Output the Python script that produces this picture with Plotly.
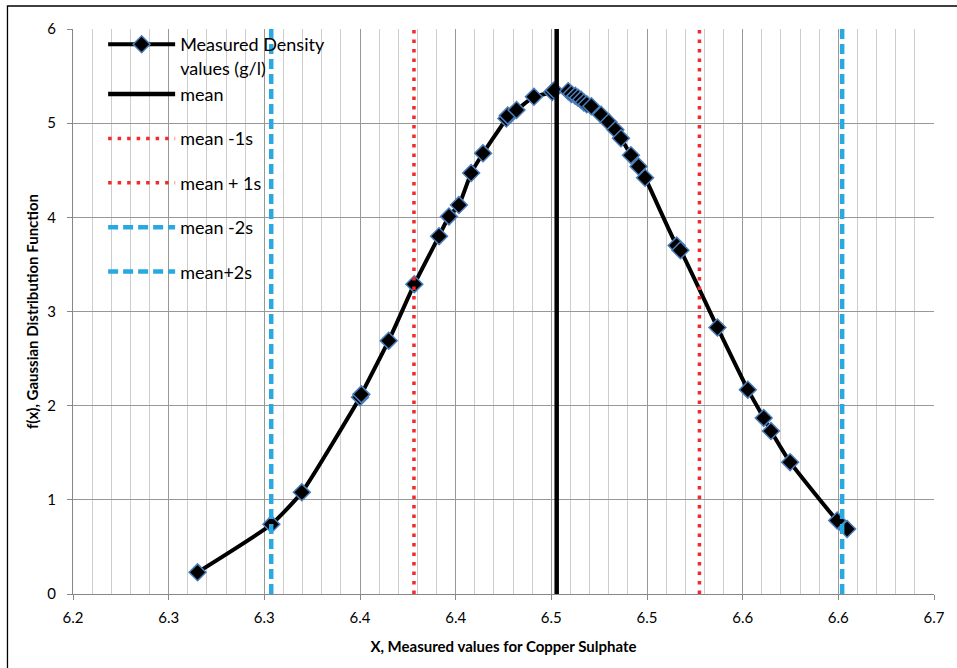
import plotly.graph_objects as go

# ---- data ----
x_measured = [6.2651, 6.3037, 6.3196, 6.3500, 6.3507, 6.3650, 6.3784, 6.3913, 6.3965,
              6.4017, 6.4081, 6.4143, 6.4265, 6.4272, 6.4318, 6.4409, 6.4505, 6.4515,
              6.4588, 6.4605, 6.4625, 6.4640, 6.4655, 6.4670, 6.4685, 6.4709, 6.4760,
              6.4800, 6.4835, 6.4864, 6.4916, 6.4956, 6.4990, 6.5155, 6.5175, 6.5368,
              6.5527, 6.5610, 6.5648, 6.5748, 6.5994, 6.6046]
f_measured = [0.23, 0.74, 1.08, 2.09, 2.12, 2.69, 3.29, 3.80, 4.01,
              4.13, 4.47, 4.68, 5.05, 5.08, 5.14, 5.28, 5.33, 5.35,
              5.34, 5.31, 5.29, 5.27, 5.25, 5.22, 5.20, 5.18, 5.09,
              5.01, 4.93, 4.84, 4.66, 4.54, 4.42, 3.70, 3.65, 2.83,
              2.17, 1.87, 1.73, 1.40, 0.78, 0.69]

mean_value = 6.4528
mean_minus_1s = 6.3782
mean_plus_1s = 6.5274
mean_minus_2s = 6.3036
mean_plus_2s = 6.6020
line_y_span = [0, 6]

x_tick_vals = [6.20, 6.25, 6.30, 6.35, 6.40, 6.45, 6.50, 6.55, 6.60, 6.65]
x_tick_text = ["6.2", "6.3", "6.3", "6.4", "6.4", "6.5", "6.5", "6.6", "6.6", "6.7"]
y_tick_vals = [0, 1, 2, 3, 4, 5, 6]

FONT = "Lato"

fig = go.Figure()

fig.add_trace(go.Scatter(
    x=x_measured, y=f_measured, mode="lines+markers",
    name="Measured Density<br>values (g/l)",
    line=dict(color="black", width=4, shape="spline", smoothing=0.5),
    marker=dict(symbol="diamond", size=13, color="black",
                line=dict(color="#4A7EBB", width=1.5)),
    legendgroup="g1",
))
fig.add_trace(go.Scatter(
    x=[mean_value, mean_value], y=line_y_span, mode="lines", name="mean",
    line=dict(color="black", width=4.5), legendgroup="g1",
))
fig.add_trace(go.Scatter(
    x=[mean_minus_1s, mean_minus_1s], y=line_y_span, mode="lines", name="mean -1s",
    line=dict(color="#F42A2A", width=3.5, dash="3.5px,6px"), legendgroup="g2",
))
fig.add_trace(go.Scatter(
    x=[mean_plus_1s, mean_plus_1s], y=line_y_span, mode="lines", name="mean + 1s",
    line=dict(color="#F42A2A", width=3.5, dash="3.5px,6px"), legendgroup="g3",
))
fig.add_trace(go.Scatter(
    x=[mean_minus_2s, mean_minus_2s], y=line_y_span, mode="lines", name="mean -2s",
    line=dict(color="#29A9E0", width=4.5, dash="10px,5px"), legendgroup="g4",
))
fig.add_trace(go.Scatter(
    x=[mean_plus_2s, mean_plus_2s], y=line_y_span, mode="lines", name="mean+2s",
    line=dict(color="#29A9E0", width=4.5, dash="10px,5px"), legendgroup="g5",
))

fig.update_layout(
    width=957, height=668,
    margin=dict(l=73, r=17, t=29, b=74),
    paper_bgcolor="white", plot_bgcolor="white",
    font=dict(family=FONT, size=15, color="black"),
    showlegend=True,
    legend=dict(
        x=0.035, y=1.0053, xanchor="left", yanchor="top",
        bgcolor="rgba(0,0,0,0)", font=dict(family=FONT, size=18, color="black"),
        valign="top", tracegroupgap=18, traceorder="grouped", itemwidth=67,
    ),
    shapes=[dict(type="rect", xref="paper", yref="paper",
                 x0=-0.0761, x1=1.03, y0=-0.15, y1=1.0407,
                 line=dict(color="black", width=1.3), fillcolor="rgba(0,0,0,0)",
                 layer="below")],
)

fig.update_xaxes(
    range=[6.2, 6.65], tickmode="array", tickvals=x_tick_vals, ticktext=x_tick_text,
    showgrid=True, gridcolor="#989898", gridwidth=1,
    minor=dict(tickmode="linear", tick0=6.2, dtick=0.01, showgrid=True,
               gridcolor="#CDCDCD", gridwidth=1),
    showline=True, linecolor="#878787", linewidth=1.3,
    ticks="outside", ticklen=5, tickcolor="#878787",
    zeroline=False, tickfont=dict(family=FONT, size=15), ticklabelstandoff=5,
    title=dict(text="<b>X, Measured values for Copper Sulphate</b>",
               font=dict(family=FONT, size=15), standoff=16),
)
fig.update_yaxes(
    range=[0, 6], tickmode="array", tickvals=y_tick_vals,
    showgrid=True, gridcolor="#989898", gridwidth=1,
    showline=True, linecolor="#878787", linewidth=1.3,
    ticks="outside", ticklen=5, tickcolor="#878787",
    zeroline=False, tickfont=dict(family=FONT, size=15), ticklabelstandoff=8,
    title=dict(text="<b>f(x), Gaussian Distribution Function</b>",
               font=dict(family=FONT, size=15), standoff=4),
)

fig.write_html("out.html", config={"displayModeBar": False},
               post_script="document.body.style.margin='0px';")
